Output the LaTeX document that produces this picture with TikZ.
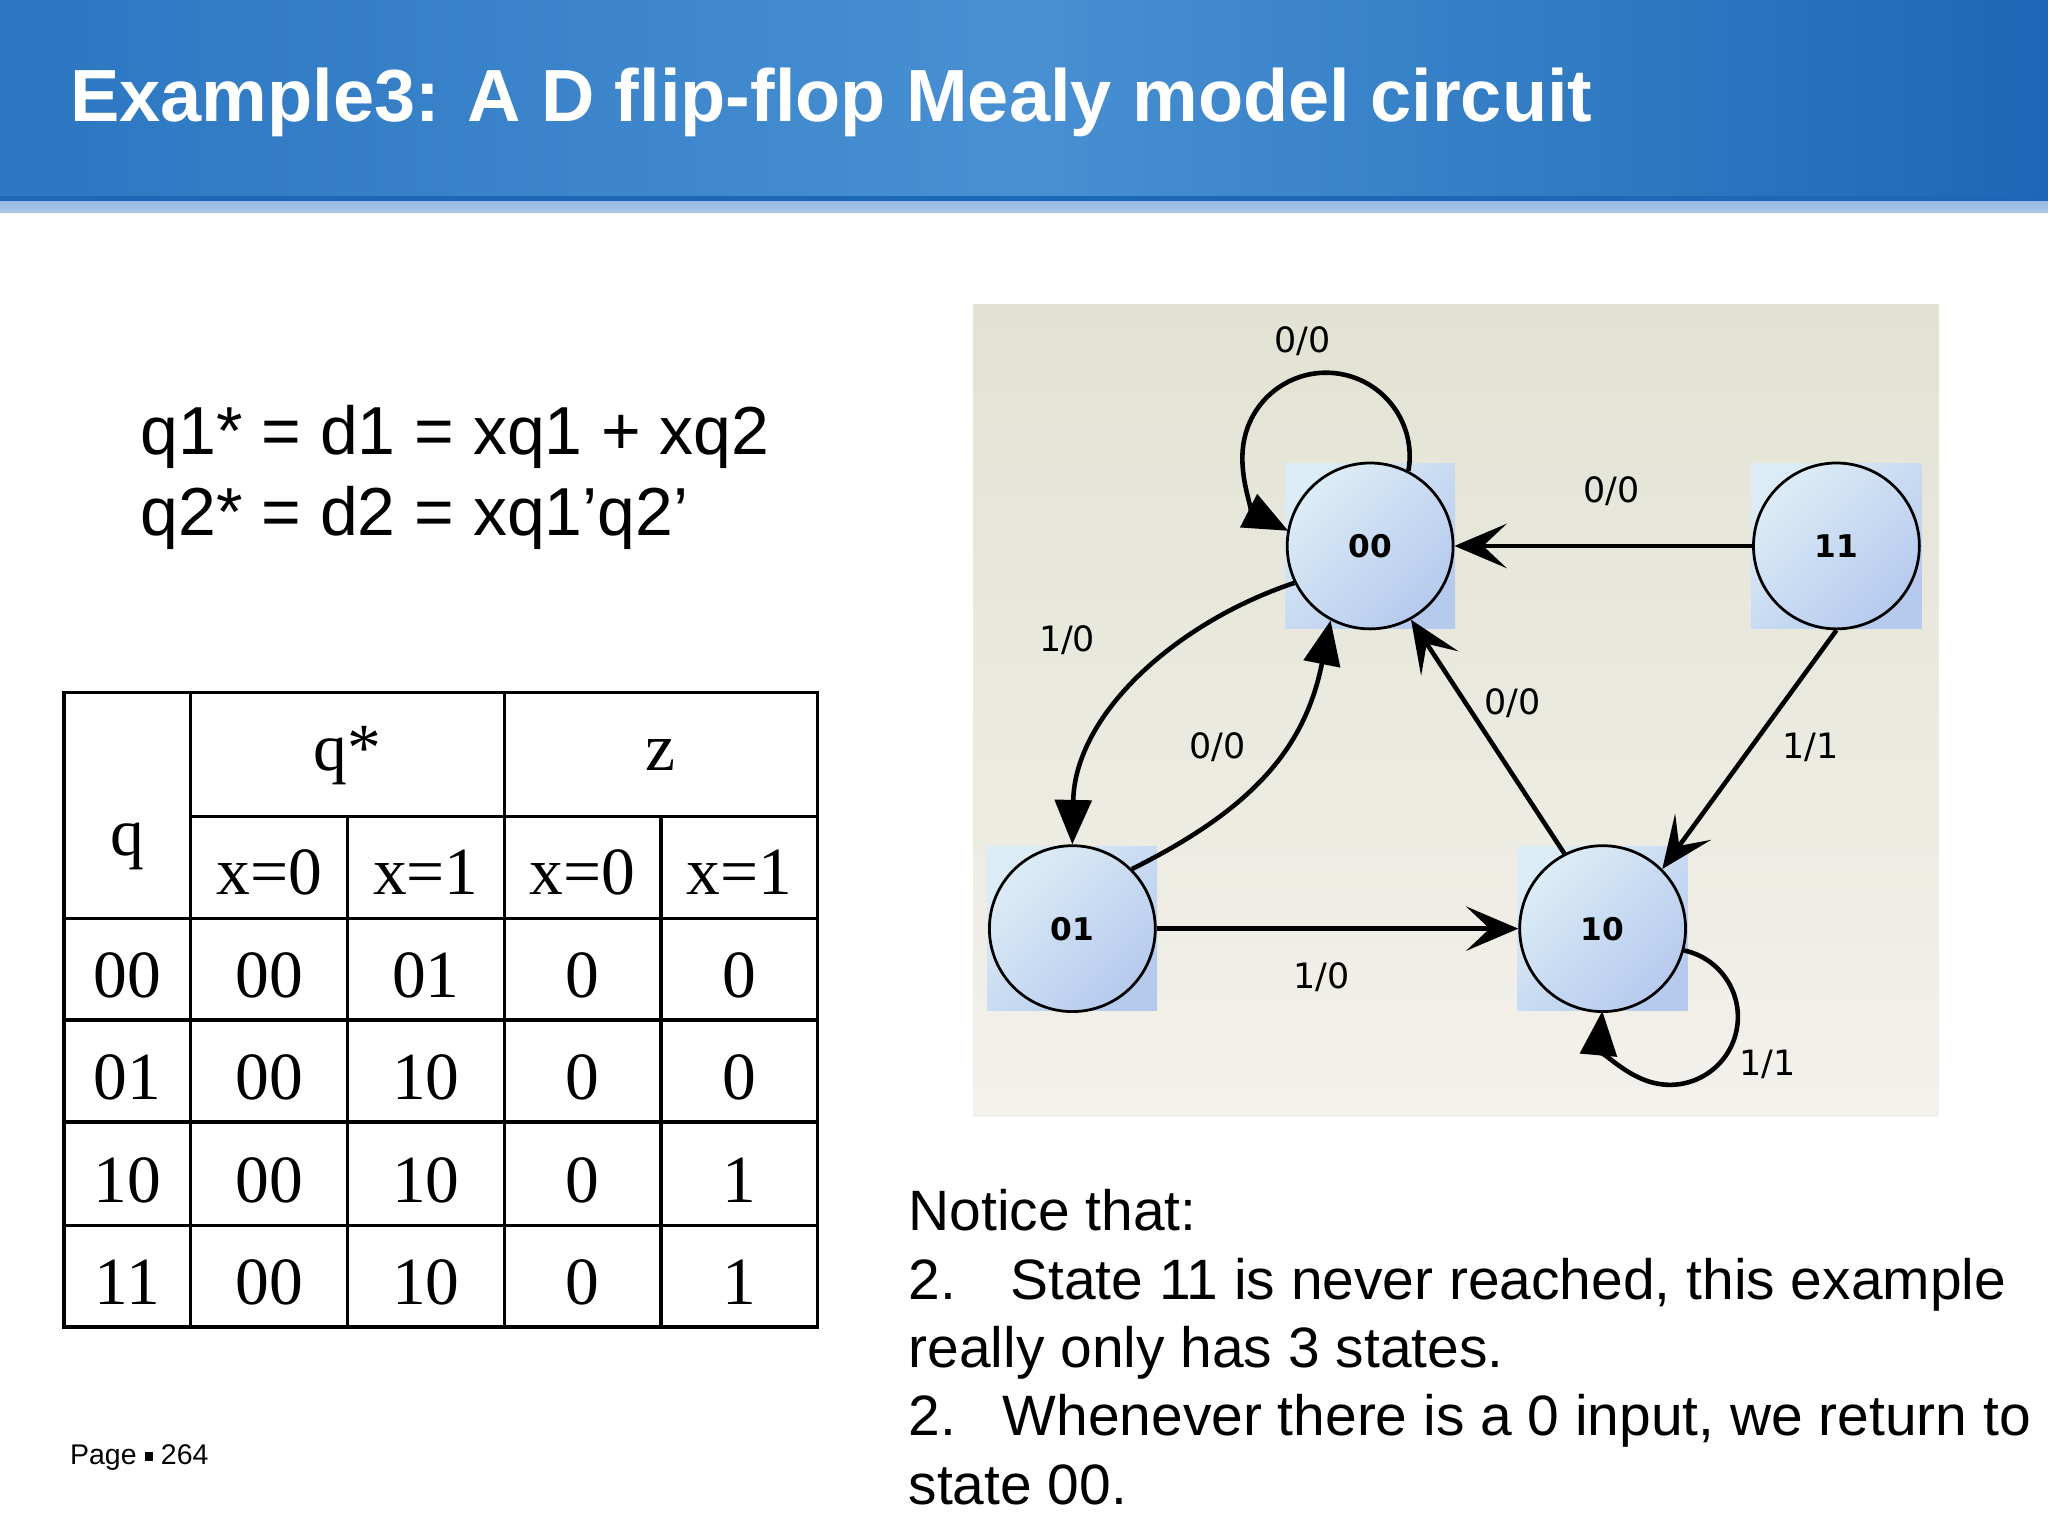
\documentclass[tikz,border=0pt]{standalone}
\usepackage{fontspec}
\setmainfont{Liberation Sans}
\newfontfamily\tabfont{Liberation Serif}
\newfontfamily\dvfont{DejaVu Sans}
\usetikzlibrary{arrows.meta}
\usetikzlibrary{positioning}
\definecolor{barA}{RGB}{44,118,194}
\definecolor{barB}{RGB}{72,144,210}
\definecolor{barC}{RGB}{28,104,182}
\definecolor{bandA}{RGB}{150,186,226}
\definecolor{bandB}{RGB}{172,202,234}
\definecolor{panelA}{RGB}{226,226,212}
\definecolor{panelB}{RGB}{243,241,235}
\definecolor{stA}{RGB}{220,236,246}
\definecolor{stB}{RGB}{182,202,238}

\begin{document}
\begin{tikzpicture}[every node/.style={inner sep=0pt},
st/.style={draw, line width=0.6pt, circle, minimum size=1.27cm, top color=stA, bottom color=stB, shading angle=45, font=\dvfont\bfseries\fontsize{6.8}{8}\selectfont},
tile/.style={rectangle, minimum width=1.30cm, minimum height=1.26cm, top color=stA, bottom color=stB, shading angle=45},
lbl/.style={font=\dvfont\fontsize{7.6}{9}\selectfont},
cell/.style={font=\tabfont\fontsize{14.7}{17}\selectfont, anchor=base},
link/.style={line width=1pt},
stl/.style={link, -{Stealth[length=0.40cm, width=0.34cm, inset=0.18cm]}},
tri/.style={link, -{Triangle[length=0.34cm, width=0.28cm]}}]
\useasboundingbox (0,0) rectangle (15.68,-11.76);
\fill[white] (0,0) rectangle (15.68,-11.76);
\shade[left color=barA, right color=barC, middle color=barB] (0,0) rectangle (15.68,-1.54);
\fill[barC] (0,-1.50) rectangle (15.68,-1.54);
\shade[top color=bandA, bottom color=bandB] (0,-1.54) rectangle (15.68,-1.63);
\node[anchor=base west, text=white, font=\bfseries\fontsize{16.1}{19}\selectfont] (title) at (0.53,-0.93) {Example3: A D flip-flop Mealy model circuit};

\node[anchor=base west, font=\fontsize{14.8}{18}\selectfont] (eq1) at (1.07,-3.48) {q1* = d1 = xq1 + xq2};
\node[anchor=base west, font=\fontsize{14.8}{18}\selectfont] (eq2) at (1.07,-4.10) {q2* = d2 = xq1’q2’};

\draw[line width=0.7pt] (0.49,-5.30) rectangle (6.26,-10.16);
\draw[line width=0.7pt] (1.46,-5.30) -- (1.46,-10.16) (3.86,-5.30) -- (3.86,-10.16)
  (2.66,-6.25) -- (2.66,-10.16) (5.06,-6.25) -- (5.06,-10.16) (1.46,-6.25) -- (6.26,-6.25);
\foreach \y in {7.03, 7.81, 8.59, 9.38}{
\draw[line width=0.7pt] (0.49,-\y) -- (6.26,-\y);}
\node[cell] (hq) at (0.975,-6.55) {q};
\node[cell] (hqs) at (2.66,-5.90) {q*};
\node[cell] (hz) at (5.06,-5.90) {z};
\foreach \c/\x/\v in {1/2.06/0, 2/3.26/1, 3/4.46/0, 4/5.66/1}{
\node[cell] (hx\c) at (\x,-6.85) {x=\v};}
\foreach \r/\y/\a/\b/\c/\d/\e in {1/7.64/00/00/01/0/0, 2/8.42/01/00/10/0/0, 3/9.21/10/00/10/0/1, 4/9.99/11/00/10/0/1}{
\node[cell] (r\r c0) at (0.975,-\y) {\a};
\node[cell] (r\r c1) at (2.06,-\y) {\b};
\node[cell] (r\r c2) at (3.26,-\y) {\c};
\node[cell] (r\r c3) at (4.46,-\y) {\d};
\node[cell] (r\r c4) at (5.66,-\y) {\e};}

\shade[top color=panelA, bottom color=panelB] (7.45,-2.33) rectangle (14.84,-8.55);
\foreach \n/\x/\y in {00/10.49/4.18, 11/14.06/4.18, 01/8.21/7.11, 10/12.27/7.11}{
\node[tile] (t\n) at (\x,-\y) {};
\node[st] (s\n) at (\x,-\y) {\n};}
\draw[tri] (s00.63) arc[start angle=-10, end angle=243, radius=0.64cm];
\draw[stl] (s11) -- (s00);
\draw[tri] (s00.206) .. controls +(-0.9,-0.3) and +(0.02,1.0) .. (s01.north);
\draw[tri] (s01.45) .. controls +(0.9,0.45) and +(-0.2,-1.0) .. (s00.242);
\draw[stl] (s10.117) -- (s00.299);
\draw[stl] (s11.south) -- (s10.45);
\draw[stl] (s01) -- (s10);
\draw[tri] (s10.345) arc[start angle=78, end angle=-185, radius=0.52cm];
\node[lbl] (la) at (9.97,-2.61) {0/0};
\node[lbl] (lb) at (12.34,-3.76) {0/0};
\node[lbl] (lc) at (8.17,-4.90) {1/0};
\node[lbl] (ld) at (9.32,-5.72) {0/0};
\node[lbl] (le) at (11.58,-5.38) {0/0};
\node[lbl] (lf) at (13.86,-5.72) {1/1};
\node[lbl] (lg) at (10.12,-7.48) {1/0};
\node[lbl] (lh) at (13.53,-8.15) {1/1};

\node[anchor=north west, align=left, font=\fontsize{12.4}{14.9}\selectfont] (note) at (6.95,-9.10) {Notice that:\\
\makebox[0.78cm][l]{2.}State 11 is never reached, this example\\
really only has 3 states.\\
\makebox[0.72cm][l]{2.}Whenever there is a 0 input, we return to\\
state 00.};
\node[anchor=base west, font=\fontsize{6.2}{7.5}\selectfont] (pg) at (0.53,-11.21) {Page \raisebox{0.12em}{\rule{0.3em}{0.3em}} 264};
\end{tikzpicture}
\end{document}
